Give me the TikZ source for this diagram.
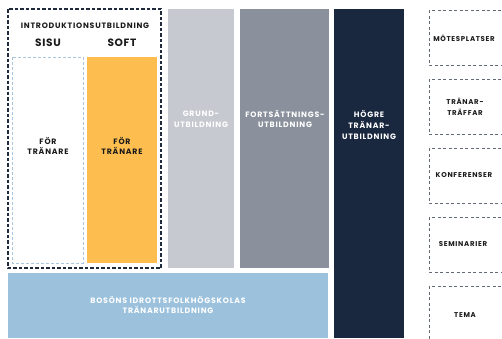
\documentclass[tikz,border=0pt]{standalone}
\usepackage{fontspec}
\setmainfont{Poppins}
\newfontfamily\lbl[LetterSpace=10]{Poppins}
\newfontfamily\lbls[LetterSpace=6]{Poppins}
\definecolor{navy}{HTML}{19283F}
\definecolor{dashdark}{HTML}{1F2A3C}
\definecolor{orangeb}{HTML}{FDBE4F}
\definecolor{greyl}{HTML}{C6C9D0}
\definecolor{greym}{HTML}{8B919C}
\definecolor{bluebar}{HTML}{9BC1DC}
\definecolor{bluedash}{HTML}{A9C8E0}
\definecolor{txtdark}{HTML}{1A1A1A}
\tikzset{
  lab/.style={inner sep=0pt, align=center, font=\lbl\bfseries\fontsize{7.8}{10.6}\selectfont},
  wlab/.style={lab, text=white},
  dlab/.style={lab, text=txtdark},
  rlab/.style={inner sep=0pt, align=center, text=txtdark, font=\lbl\bfseries\fontsize{7}{10.5}\selectfont},
  sidebox/.style={draw=dashdark!70, line width=0.6pt, dash pattern=on 3pt off 2.5pt}
}
\begin{document}
\begin{tikzpicture}[x=1pt,y=-1pt]
\useasboundingbox (0,0) rectangle (502,338);
\clip (0,0) rectangle (502,338);
% columns
\fill[orangeb] (87,57) rectangle (157,263);
\draw[bluedash, line width=0.8pt, dash pattern=on 3pt off 2pt] (12,57) rectangle (83,263);
\draw[dashdark, line width=1.1pt, dash pattern=on 3.5pt off 2pt] (8,9) rectangle (161,268);
\fill[greyl] (168,9) rectangle (234,268);
\fill[greym] (240,9) rectangle (329,268);
\fill[navy] (334,9) rectangle (404,338);
\fill[bluebar] (8,273) rectangle (328,338);
% right boxes
\foreach \t in {10,79,148,217,286}{
  \draw[sidebox] (429,\t) rectangle (520,\t+55);
}
% labels
\node[dlab, font=\lbl\bfseries\fontsize{7.8}{9}\selectfont] (intro) at (85,26) {INTRODUKTIONSUTBILDNING};
\node[dlab, font=\lbls\bfseries\fontsize{10.6}{11}\selectfont] (sisu) at (48,43) {SISU};
\node[dlab, font=\lbls\bfseries\fontsize{10.6}{11}\selectfont] (soft) at (122,43) {SOFT};
\node[dlab] (forsisu) at (48,146) {FÖR\\TRÄNARE};
\node[dlab] (forsoft) at (122,146) {FÖR\\TRÄNARE};
\node[wlab] (grund) at (201,119) {GRUND-\\UTBILDNING};
\node[wlab] (forts) at (285,119) {FORTSÄTTNINGS-\\UTBILDNING};
\node[wlab] (hogre) at (369,125) {HÖGRE\\TRÄNAR-\\UTBILDNING};
\node[wlab] (boson) at (168,305) {BOSÖNS IDROTTSFOLKHÖGSKOLAS\\TRÄNARUTBILDNING};
\node[rlab] (mote) at (464,38) {MÖTESPLATSER};
\node[rlab] (traff) at (465,107) {TRÄNAR-\\TRÄFFAR};
\node[rlab] (konf) at (464,175) {KONFERENSER};
\node[rlab] (sem) at (463,244) {SEMINARIER};
\node[rlab] (tema) at (465,315) {TEMA};
\end{tikzpicture}
\end{document}
